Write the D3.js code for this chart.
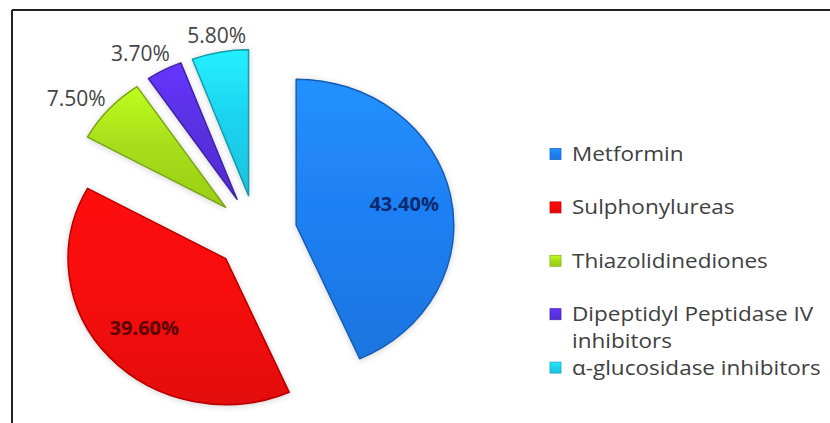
<!DOCTYPE html>
<html>
<head>
<meta charset="utf-8">
<script src="https://cdn.jsdelivr.net/npm/d3@7"></script>
<style>
  body { margin: 0; background: #fff; }
  svg { display: block; font-family: "Open Sans", sans-serif; }
</style>
</head>
<body>
<script>
// data
var categories = ["Metformin", "Sulphonylureas", "Thiazolidinediones", "Dipeptidyl Peptidase IV inhibitors", "α-glucosidase inhibitors"];
var values = [43.4, 39.6, 7.5, 3.7, 5.8];
var legendLines = [["Metformin"], ["Sulphonylureas"], ["Thiazolidinediones"], ["Dipeptidyl Peptidase IV", "inhibitors"], ["α-glucosidase inhibitors"]];
var colors = ["#1f80f5", "#f80808", "#a8e01a", "#5a30e4", "#1ed4f0"];
var labelInk = ["#0b2a70", "#5a0000"];

var width = 830, height = 423;
var cx = 256, cy = 233, r = 146, sx = 1.08, explode = 38;

var svg = d3.select("body")
            .append("svg")
            .attr("width", width)
            .attr("height", height);

var defs = svg.append("defs");

// soft halo like the original
var f = defs.append("filter").attr("id", "halo")
    .attr("x", "-20%").attr("y", "-20%").attr("width", "140%").attr("height", "140%");
f.append("feDropShadow").attr("dx", 0).attr("dy", 1)
    .attr("stdDeviation", 3).attr("flood-color", "#000").attr("flood-opacity", 0.18);

colors.forEach(function(c, i) {
  var g = defs.append("linearGradient").attr("id", "grad" + i)
      .attr("x1", 0).attr("y1", 0).attr("x2", 0).attr("y2", 1);
  g.append("stop").attr("offset", "0%").attr("stop-color", d3.color(c).brighter(0.35));
  g.append("stop").attr("offset", "45%").attr("stop-color", c);
  g.append("stop").attr("offset", "100%").attr("stop-color", d3.color(c).darker(0.25));
});

// frame
svg.append("line").attr("x1", 12).attr("y1", 10).attr("x2", width).attr("y2", 10)
   .attr("stroke", "#222").attr("stroke-width", 2);
svg.append("line").attr("x1", 12).attr("y1", 10).attr("x2", 12).attr("y2", height)
   .attr("stroke", "#222").attr("stroke-width", 2);

var pie = d3.pie().sort(null).value(function(d) { return d; });
var arcs = pie(values);
var arc = d3.arc().innerRadius(0).outerRadius(r);

function mid(d) { return (d.startAngle + d.endAngle) / 2; }
function offset(d) {
  var a = mid(d);
  return [Math.sin(a) * explode, -Math.cos(a) * explode];
}

var pieG = svg.append("g")
    .attr("transform", "translate(" + cx + "," + cy + ") scale(" + sx + ",1)");

pieG.selectAll("path")
    .data(arcs)
    .enter().append("path")
    .attr("transform", function(d) { var o = offset(d); return "translate(" + o[0] + "," + o[1] + ")"; })
    .attr("d", arc)
    .attr("fill", function(d, i) { return "url(#grad" + i + ")"; })
    .attr("stroke", function(d, i) { return d3.color(colors[i]).darker(0.9); })
    .attr("stroke-width", 1.5)
    .attr("stroke-linejoin", "round")
    .attr("vector-effect", "non-scaling-stroke")
    .attr("filter", "url(#halo)");

var fmt = function(v) { return d3.format(".2f")(v) + "%"; };
var labelG = svg.append("g").attr("transform", "translate(" + cx + "," + cy + ")");

var labels = labelG.selectAll("text")
    .data(arcs)
    .enter().append("text")
    .attr("text-anchor", "middle")
    .attr("dy", "0.36em")
    .style("font-size", function(d) { return d.data > 10 ? "20px" : "21px"; })
    .style("font-weight", function(d) { return d.data > 10 ? "bold" : "normal"; })
    .attr("fill", function(d, i) { return d.data > 10 ? labelInk[i] : "#444"; })
    .text(function(d) { return fmt(d.data); });

// place a label at angle a: inside ones at 0.7r, outside ones just clear of the rim
function place(d, a, hw) {
  var o = offset(d), lr;
  if (d.data > 10) lr = r * 0.7;
  else lr = r + 4 + Math.abs(Math.sin(a)) * hw + Math.abs(Math.cos(a)) * 8;
  return [sx * (o[0] + Math.sin(a) * lr), o[1] - Math.cos(a) * lr];
}

var pos = [];
labels.each(function(d, i) {
  d.hw = this.getComputedTextLength() / 2 / sx;
  d.la = mid(d);
  pos[i] = place(d, d.la, d.hw);
});

// push crowded outside labels counter-clockwise, best-fit style
var minDist = 78;
for (var i = arcs.length - 2; i >= 0; i--) {
  var d = arcs[i], next = arcs[i + 1];
  if (d.data > 10 || next.data > 10) continue;
  var guard = 0;
  while (Math.hypot(pos[i][0] - pos[i + 1][0], pos[i][1] - pos[i + 1][1]) < minDist && guard++ < 60) {
    d.la -= Math.PI / 360;
    pos[i] = place(d, d.la, d.hw);
  }
}

labels.attr("x", function(d, i) { return pos[i][0]; })
      .attr("y", function(d, i) { return pos[i][1]; });

// legend (text stretched a little, like the rest of the picture)
var legendX = 550, legendY = 154, step = 53.4, lineH = step / 2, textSx = 1.16;
var legend = svg.append("g").attr("class", "legend");

var item = legend.selectAll("g")
    .data(categories)
    .enter().append("g")
    .attr("transform", function(d, i) { return "translate(" + legendX + "," + (legendY + i * step) + ")"; });

item.append("rect")
    .attr("x", 0).attr("y", -5.5)
    .attr("width", 11).attr("height", 11)
    .attr("fill", function(d, i) { return "url(#grad" + i + ")"; })
    .attr("stroke", function(d, i) { return d3.color(colors[i]).darker(0.6); })
    .attr("stroke-width", 0.8);

item.append("g")
    .attr("transform", "translate(22,0) scale(" + textSx + ",1)")
    .append("text")
    .attr("fill", "#404040")
    .style("font-size", "19.4px")
    .each(function(d, i) {
      var t = d3.select(this);
      legendLines[i].forEach(function(line, j) {
        t.append("tspan").attr("x", 0).attr("y", j * lineH).attr("dy", "0.36em").text(line);
      });
    });
</script>
</body>
</html>
